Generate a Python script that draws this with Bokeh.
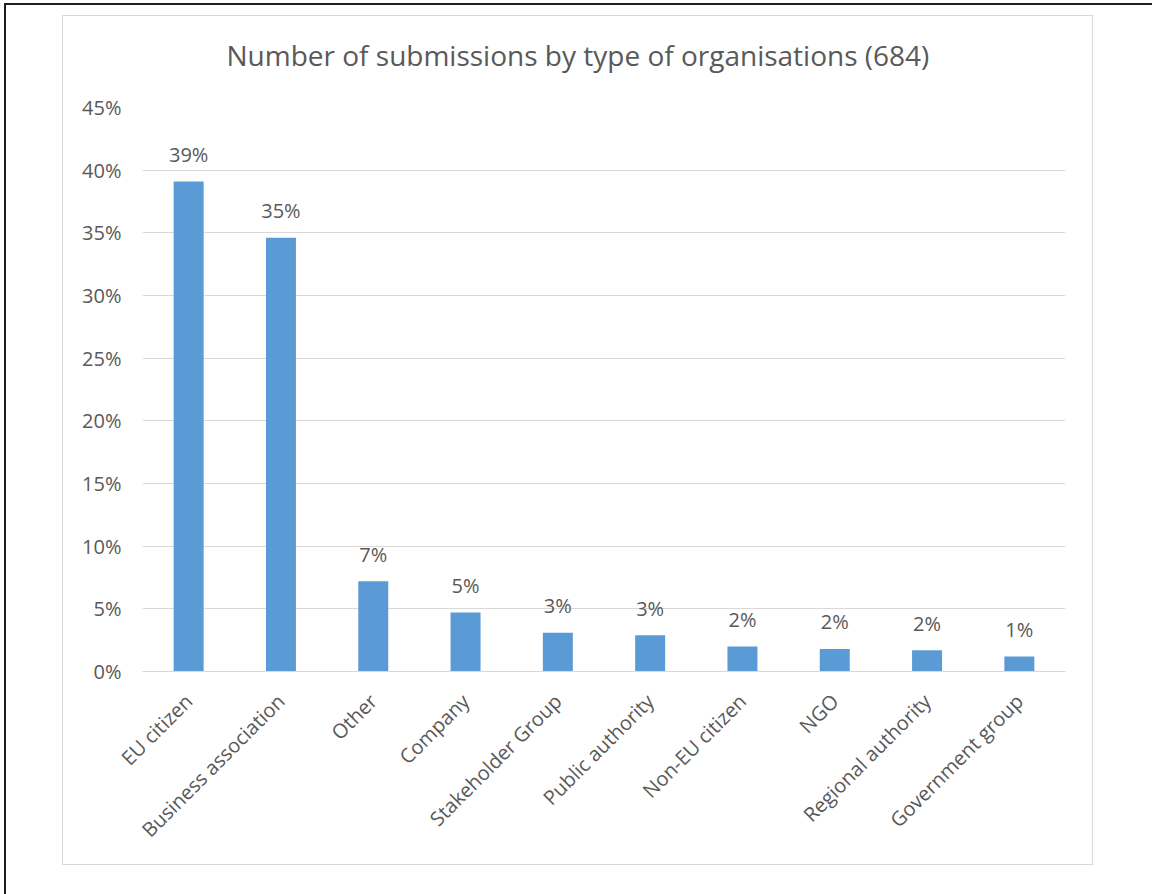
import math
from bokeh.plotting import figure
from bokeh.models import ColumnDataSource, Range1d, FactorRange, PrintfTickFormatter, FixedTicker, Title
from bokeh.embed import file_html
from bokeh.resources import INLINE
from bokeh.core.properties import value

# ---- data ----
categories = ["EU citizen", "Business association", "Other", "Company", "Stakeholder Group",
              "Public authority", "Non-EU citizen", "NGO", "Regional authority", "Government group"]
shares = [39.1, 34.6, 7.2, 4.7, 3.1, 2.9, 2.0, 1.8, 1.7, 1.2]
bar_labels = [f"{round(v)}%" for v in shares]
y_ticks = [0, 5, 10, 15, 20, 25, 30, 35, 40, 45]
title_text = "Number  of submissions by type of organisations (684)"

FONT = "Open Sans"
TEXT_COLOR = "#595959"
GRID_COLOR = "#D9D9D9"
BAR_COLOR = "#5B9BD5"

src = ColumnDataSource(dict(cat=categories, share=shares, label=bar_labels))

p = figure(x_range=FactorRange(*categories, range_padding=0), y_range=Range1d(0, 45),
           width=1029, height=848, output_backend="svg", toolbar_location=None,
           min_border_left=79, min_border_right=27, min_border_top=91, min_border_bottom=193)
p.margin = (16, 0, 0, 63)
p.styles = {"box-shadow": "0 0 0 1px #D9D9D9, 5px 51px 0 62px #ffffff, 1px 47px 0 60px #1e1e1e"}

p.vbar(x="cat", top="share", width=0.325, source=src, fill_color=BAR_COLOR, line_color=None)
p.text(x="cat", y="share", text="label", source=src, text_align="center",
       text_baseline="alphabetic", y_offset=-27, text_font=value(FONT),
       text_font_size="20px", text_color=TEXT_COLOR)

# white spacer between the title and the plot area
p.add_layout(Title(text=" ", text_font_size="2px", text_color="white", standoff=10), "above")

p.title.text = title_text
p.title.align = "left"
p.title.offset = 84
p.title.standoff = 37
p.title.vertical_align = "middle"
p.title.text_font = FONT
p.title.text_font_size = "28px"
p.title.text_font_style = "normal"
p.title.text_color = TEXT_COLOR

p.outline_line_color = None
p.background_fill_color = "white"
p.border_fill_color = "white"

p.xgrid.grid_line_color = None
p.ygrid.grid_line_color = GRID_COLOR
p.ygrid.ticker = FixedTicker(ticks=y_ticks)

p.yaxis.ticker = FixedTicker(ticks=y_ticks)
p.yaxis.formatter = PrintfTickFormatter(format="%d%%")
p.yaxis.axis_line_color = None
p.yaxis.major_tick_line_color = None
p.yaxis.minor_tick_line_color = None
p.yaxis.major_tick_out = 0
p.yaxis.major_label_standoff = 21
p.yaxis.major_label_text_font = FONT
p.yaxis.major_label_text_font_size = "20px"
p.yaxis.major_label_text_color = TEXT_COLOR

p.xaxis.axis_line_color = GRID_COLOR
p.xaxis.major_tick_line_color = None
p.xaxis.minor_tick_line_color = None
p.xaxis.major_tick_out = 0
p.xaxis.major_label_orientation = math.pi / 4
p.xaxis.major_label_standoff = 26
p.xaxis.major_label_text_font = FONT
p.xaxis.major_label_text_font_size = "20px"
p.xaxis.major_label_text_color = TEXT_COLOR

open("out.html", "w").write(file_html(p, INLINE))
